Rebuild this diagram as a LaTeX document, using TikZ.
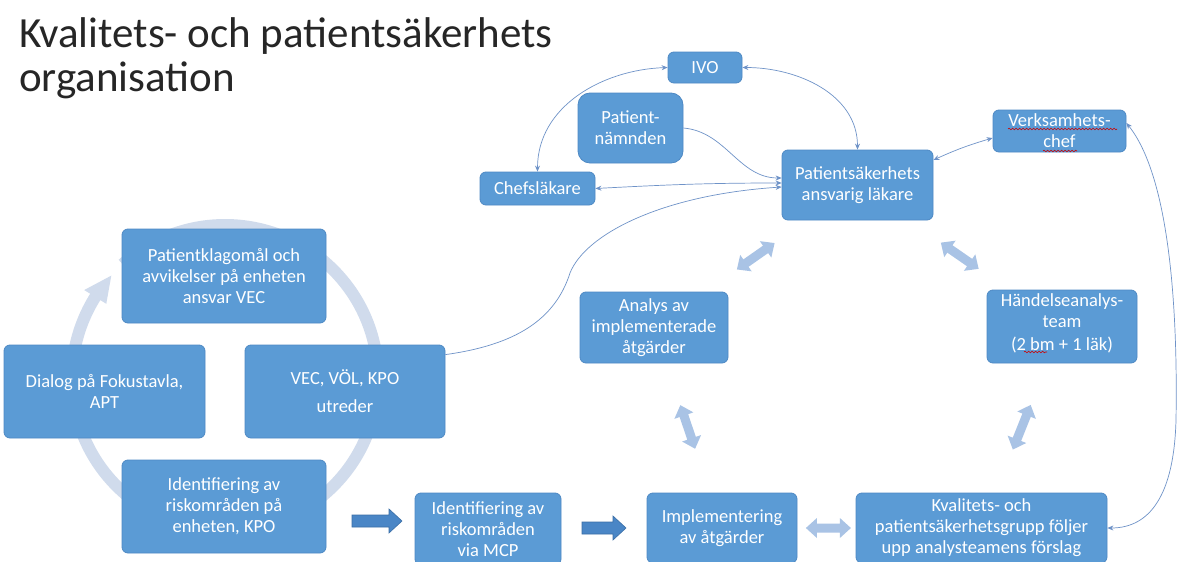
\documentclass[tikz,border=0pt]{standalone}
\usepackage{fontspec}
\setmainfont{Carlito}
\usetikzlibrary{arrows.meta,calc,decorations.pathmorphing}
\definecolor{boxblue}{HTML}{5B9BD5}
\definecolor{boxedge}{HTML}{4E89C4}
\definecolor{thinline}{HTML}{6F93C8}
\definecolor{lightarr}{HTML}{A9C3E5}
\definecolor{ringcol}{HTML}{D0DBEC}
\definecolor{darkarr}{HTML}{4A86C6}
\definecolor{darkarredge}{HTML}{3A6EA6}
\definecolor{titlecol}{HTML}{262626}
\begin{document}
\begin{tikzpicture}[x=1pt,y=-1pt,
  box/.style={draw=boxedge, line width=0.8pt, fill=boxblue, rounded corners=6pt,
    text=white, align=center, font=\fontsize{18.5}{21}\selectfont, inner sep=2pt},
  conn/.style={draw=thinline, line width=0.7pt, >={Stealth[length=6pt,width=5pt]}},
  titletext/.style={anchor=base west, inner sep=0pt, text=titlecol,
    font=\fontsize{43}{46}\selectfont},
  squig/.style={draw=red!80!black, line width=0.6pt, decorate,
    decoration={snake, amplitude=0.8pt, segment length=3.5pt}},
  pics/dbl/.style={code={\fill[lightarr] (-#1,0) -- (-#1+11,-10) -- (-#1+11,-4.5)
    -- (#1-11,-4.5) -- (#1-11,-10) -- (#1,0) -- (#1-11,10) -- (#1-11,4.5)
    -- (-#1+11,4.5) -- (-#1+11,10) -- cycle;}},
  pics/blk/.style={code={\filldraw[fill=darkarr, draw=darkarredge, line width=0.6pt]
    (-#1,-6) -- (#1-13,-6) -- (#1-13,-12) -- (#1,0) -- (#1-13,12) -- (#1-13,6)
    -- (-#1,6) -- cycle;}}
]
\clip (0,0) rectangle (1179,562);
\fill[white] (0,0) rectangle (1179,562);

% title
\node[titletext] (t1) at (19,47) {Kvalitets- och patientsäkerhets};
\node[titletext] (t2) at (19,91) {organisation};

% cycle ring
\draw[ringcol, line width=12pt] ([shift={(225,378)}]-132:153) arc[start angle=-132, end angle=213.5, radius=153];
\fill[ringcol] ([shift={(225,378)}]222:153) -- ([shift={(225,378)}]212:166) -- ([shift={(225,378)}]212:140) -- cycle;

% boxes
\node[box, minimum width=74pt, minimum height=31pt] (ivo) at (705,67.5) {IVO};
\node[box, rounded corners=12pt, minimum width=105pt, minimum height=70pt] (pn) at (630.5,128) {Patient-\\nämnden};
\node[box, minimum width=115pt, minimum height=33pt] (chef) at (537.5,188.5) {Chefsläkare};
\node[box, minimum width=151pt, minimum height=70pt] (psal) at (857.5,185) {Patientsäkerhets\\ansvarig läkare};
\node[box, minimum width=133pt, minimum height=42pt] (vc) at (1059.5,131) {Verksamhets-\\chef};
\node[box, minimum width=204pt, minimum height=94pt] (pk) at (224,276) {Patientklagomål och\\avvikelser på enheten\\ansvar VEC};
\node[box, minimum width=201pt, minimum height=93pt] (dialog) at (104.5,391.5) {Dialog på Fokustavla,\\APT};
\node[box, minimum width=200pt, minimum height=93pt] (vec) at (345,391.5) {VEC, VÖL, KPO\\[7pt]utreder};
\node[box, minimum width=204pt, minimum height=93pt] (idr) at (224,506.5) {Identifiering av\\riskområden på\\enheten, KPO};
\node[box, minimum width=146pt, minimum height=72pt] (mcp) at (488,529) {Identifiering av\\riskområden\\via MCP};
\node[box, minimum width=150pt, minimum height=70pt] (impl) at (722,528) {Implementering\\av åtgärder};
\node[box, minimum width=251pt, minimum height=70pt] (kq) at (981.5,528) {Kvalitets- och\\patientsäkerhetsgrupp följer\\upp analysteamens förslag};
\node[box, minimum width=148pt, minimum height=71pt] (analys) at (654,327.5) {Analys av\\implementerade\\åtgärder};
\node[box, minimum width=150pt, minimum height=73pt] (hand) at (1062,326.5) {Händelseanalys-\\team\\[2pt](2 bm + 1 läk)\\[-12pt]\mbox{}};

% spell-check marks
\draw[squig] (1008,129) -- (1117,129);
\draw[squig] (1043,151) -- (1077,151);
\draw[squig] (1024,352) -- (1047,352);

% thin connectors
\draw[conn,<->] (ivo.west) to[out=182, in=90] (chef.north);
\draw[conn,<->] (ivo.east) to[out=0, in=90] (psal.north);
\draw[conn,->] (pn.east) to[out=-5, in=180] ($(psal.west)+(0,-7)$);
\draw[conn,<->] (chef.east) to[out=3, in=180] ($(psal.west)+(0,-2)$);
\draw[conn,->] ($(vec.north east)+(0,10)$) .. controls (515,345) and (555,320) .. (570,273)
   .. controls (585,235) and (660,195) .. ($(psal.west)+(0,2)$);
\draw[conn,<->] ($(psal.east)+(0,-25)$) to[bend left=4] ($(vc.west)+(0,7)$);
\draw[conn,<->] (kq.east) .. controls (1150,528) and (1174,495) .. (1176,420)
   .. controls (1178,300) and (1168,175) .. ($(vc.east)+(0,-8)$);

% light double arrows between boxes
\path (psal.center) -- coordinate[pos=0.5] (mA) (analys.center);
\path (psal.center) -- coordinate[pos=0.5] (mB) (hand.center);
\path (analys.center) -- coordinate[pos=0.496] (mC) (impl.center);
\path (hand.center) -- coordinate[pos=0.5] (mD) (kq.center);
\path (impl.center) -- coordinate[pos=0.41] (mE) (kq.center);
\path let \p1=($(analys.center)-(psal.center)$), \n1={atan2(\y1,\x1)} in (mA) pic[rotate=\n1]{dbl=23};
\path let \p1=($(hand.center)-(psal.center)$), \n1={atan2(\y1,\x1)} in (mB) pic[rotate=\n1]{dbl=23};
\path let \p1=($(impl.center)-(analys.center)$), \n1={atan2(\y1,\x1)} in (mC) pic[rotate=\n1]{dbl=23};
\path let \p1=($(kq.center)-(hand.center)$), \n1={atan2(\y1,\x1)} in (mD) pic[rotate=\n1]{dbl=24};
\path (mE) pic{dbl=22.5};

% dark block arrows
\path (377,521) pic{blk=25};
\path (604,528) pic{blk=22};
\end{tikzpicture}
\end{document}
